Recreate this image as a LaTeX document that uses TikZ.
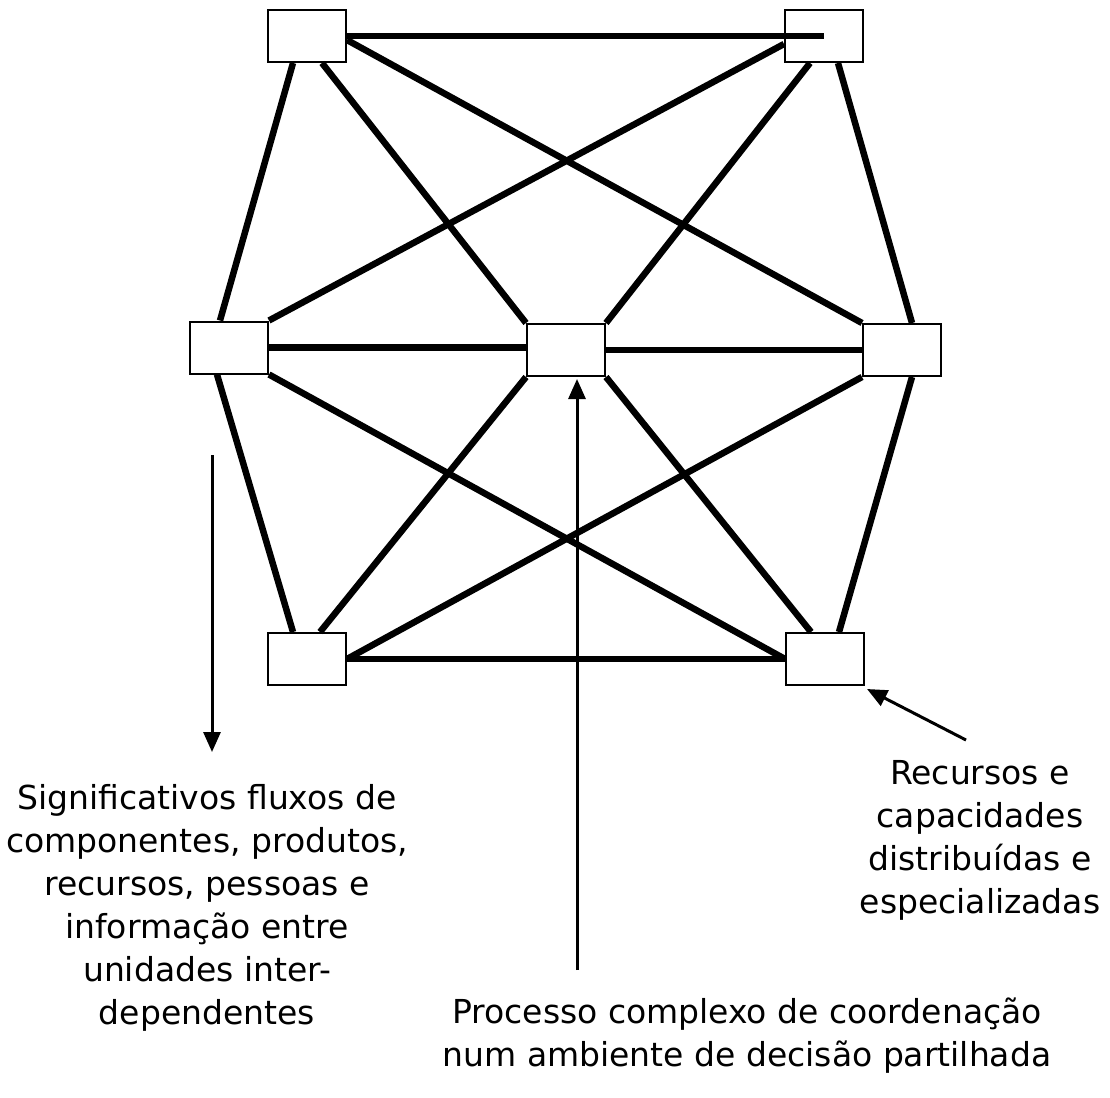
\documentclass[tikz,border=0pt]{standalone}
\usepackage{fontspec}
\setmainfont{DejaVu Sans}
\usetikzlibrary{arrows.meta,calc}
\tikzset{
  unit/.style={draw=black, line width=2pt, fill=white, minimum width=78pt, minimum height=52pt, inner sep=0pt},
  link/.style={line width=6.5pt},
  pointer/.style={line width=3pt, -{Triangle[length=20pt,width=17pt]}},
  caption/.style={align=center, font=\fontsize{33}{43}\selectfont, inner sep=0pt}
}
\begin{document}
\begin{tikzpicture}[x=1pt,y=-1pt]
\useasboundingbox[fill=white] (0,0) rectangle (1110,1097);
% boxes
\node[unit] (TL) at (307,36) {};
\node[unit] (TR) at (824,36) {};
\node[unit] (ML) at (229,347.5) {};
\node[unit] (MC) at (566,350) {};
\node[unit] (MR) at (902,350) {};
\node[unit] (BL) at (307,659) {};
\node[unit] (BR) at (825,659) {};
% connectors
\draw[link] (TL.east) -- (TR.center);
\draw[link] ([yshift=-4pt]TL.east) -- (MR.north west);
\draw[link] ([xshift=15pt]TL.south) -- (MC.north west);
\draw[link] ([xshift=-14pt]TL.south) -- ([xshift=-9pt]ML.north);
\draw[link] ([yshift=-8pt]TR.west) -- (ML.north east);
\draw[link] ([xshift=-14pt]TR.south) -- (MC.north east);
\draw[link] ([xshift=14pt]TR.south) -- ([xshift=10pt]MR.north);
\draw[link] (ML.east) -- (ML.east -| MC.west);
\draw[link] (MC.east) -- (MR.west);
\draw[link] (ML.south east) -- (BR.west);
\draw[link] (BL.east) -- (BR.west);
\draw[link] (MR.south west) -- (BL.east);
\draw[link] ([xshift=-12pt]ML.south) -- ([xshift=-14pt]BL.north);
\draw[link] (MC.south west) -- ([xshift=13pt]BL.north);
\draw[link] (MC.south east) -- ([xshift=-14pt]BR.north);
\draw[link] ([xshift=10pt]MR.south) -- ([xshift=14pt]BR.north);
% arrows
\coordinate (up0) at (577,970);
\coordinate (dn0) at (212,455);
\coordinate (dn1) at (212,752);
\coordinate (rt0) at (966,740);
\draw[pointer] (up0) -- ([xshift=11pt,yshift=-2pt]MC.south);
\draw[pointer] (dn0) -- (dn1);
\draw[pointer] (rt0) -- ([xshift=2pt,yshift=-3pt]BR.south east);
% texts
\node[caption] (left) at (207,908) {Significativos fluxos de\\componentes, produtos,\\recursos, pessoas e\\informação entre\\unidades inter-\\dependentes};
\node[caption] (right) at (980,840) {Recursos e\\capacidades\\distribuídas e\\especializadas};
\node[caption] (bottom) at (747,1036) {Processo complexo de coordenação\\num ambiente de decisão partilhada};
\end{tikzpicture}
\end{document}
